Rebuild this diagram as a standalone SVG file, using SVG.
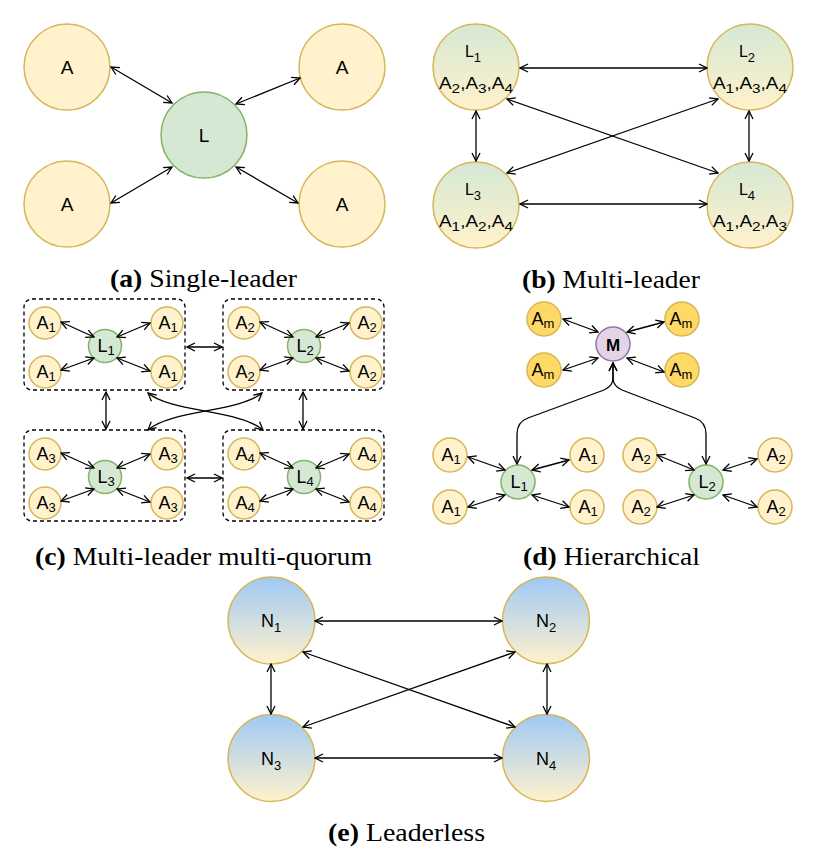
<svg xmlns="http://www.w3.org/2000/svg" width="817" height="862" viewBox="0 0 817 862">
<style>
.y{fill:#fff2cc;stroke:#d6b656;stroke-width:1.5}
.g{fill:#d5e8d4;stroke:#82b366;stroke-width:1.5}
.p{fill:#e1d5e7;stroke:#9673a6;stroke-width:1.5}
.am{fill:#ffd966;stroke:#d6b656;stroke-width:1.5}
.gb{fill:url(#gradB);stroke:#d6b656;stroke-width:1.5}
.ge{fill:url(#gradE);stroke:#d6b656;stroke-width:1.5}
.t{font-family:"Liberation Sans",Arial,sans-serif;fill:#000;text-anchor:middle}
.big{font-size:19px}
.mid{font-size:16px}
.sm{font-size:18px}
.sub{font-size:13px}
.cap{font-family:"Liberation Serif","Times New Roman",serif;font-size:25px;fill:#000}
.e{fill:none;stroke:#000;stroke-width:1.3;marker-start:url(#arr);marker-end:url(#arr)}
.box{fill:none;stroke:#000;stroke-width:1.3;stroke-dasharray:4 3}
</style>
<defs>
<linearGradient id="gradB" x1="0" y1="0" x2="0" y2="1">
<stop offset="0" stop-color="#d5e8d4"/>
<stop offset="1" stop-color="#fff2cc"/>
</linearGradient>
<linearGradient id="gradE" x1="0" y1="0" x2="0" y2="1">
<stop offset="0" stop-color="#9fc9f5"/>
<stop offset="1" stop-color="#fff2cc"/>
</linearGradient>
<marker id="arr" viewBox="0 0 10 10" markerWidth="10" markerHeight="10" refX="9" refY="5" orient="auto-start-reverse" markerUnits="userSpaceOnUse">
<path d="M1,1 L9,5 L1,9" fill="none" stroke="#000" stroke-width="1.3"/>
</marker>
</defs>

<!-- (a) Single-leader -->
<g id="a-A1"><circle class="y" cx="67" cy="67" r="43"/><text class="t big" x="67" y="74">A</text></g>
<g id="a-A2"><circle class="y" cx="342" cy="67" r="43"/><text class="t big" x="342" y="74">A</text></g>
<g id="a-A3"><circle class="y" cx="67" cy="204" r="43"/><text class="t big" x="67" y="211">A</text></g>
<g id="a-A4"><circle class="y" cx="342" cy="204" r="43"/><text class="t big" x="342" y="211">A</text></g>
<g id="a-L"><circle class="g" cx="204" cy="135" r="43"/><text class="t big" x="204" y="142">L</text></g>

<!-- (b) Multi-leader -->
<g id="b-L1"><circle class="gb" cx="476" cy="67" r="43"/>
<text class="t mid" x="473" y="57">L<tspan class="sub" dy="5">1</tspan></text>
<text class="t mid" x="476" y="89" textLength="74" lengthAdjust="spacingAndGlyphs">A<tspan class="sub" dy="4">2</tspan><tspan dy="-4">,A</tspan><tspan class="sub" dy="4">3</tspan><tspan dy="-4">,A</tspan><tspan class="sub" dy="4">4</tspan></text></g>
<g id="b-L2"><circle class="gb" cx="750" cy="67" r="43"/>
<text class="t mid" x="747" y="57">L<tspan class="sub" dy="5">2</tspan></text>
<text class="t mid" x="750" y="89" textLength="74" lengthAdjust="spacingAndGlyphs">A<tspan class="sub" dy="4">1</tspan><tspan dy="-4">,A</tspan><tspan class="sub" dy="4">3</tspan><tspan dy="-4">,A</tspan><tspan class="sub" dy="4">4</tspan></text></g>
<g id="b-L3"><circle class="gb" cx="476" cy="205" r="43"/>
<text class="t mid" x="473" y="195">L<tspan class="sub" dy="5">3</tspan></text>
<text class="t mid" x="476" y="227" textLength="74" lengthAdjust="spacingAndGlyphs">A<tspan class="sub" dy="4">1</tspan><tspan dy="-4">,A</tspan><tspan class="sub" dy="4">2</tspan><tspan dy="-4">,A</tspan><tspan class="sub" dy="4">4</tspan></text></g>
<g id="b-L4"><circle class="gb" cx="750" cy="205" r="43"/>
<text class="t mid" x="747" y="195">L<tspan class="sub" dy="5">4</tspan></text>
<text class="t mid" x="750" y="227" textLength="74" lengthAdjust="spacingAndGlyphs">A<tspan class="sub" dy="4">1</tspan><tspan dy="-4">,A</tspan><tspan class="sub" dy="4">2</tspan><tspan dy="-4">,A</tspan><tspan class="sub" dy="4">3</tspan></text></g>

<!-- (c) Multi-leader multi-quorum -->
<g id="c-Q1">
<rect class="box" x="24" y="299" width="161" height="91" rx="8"/>
<circle class="y" cx="45" cy="323" r="16"/><text class="t sm" x="46" y="329">A<tspan class="sub" dy="3">1</tspan></text>
<circle class="y" cx="167" cy="323" r="16"/><text class="t sm" x="168" y="329">A<tspan class="sub" dy="3">1</tspan></text>
<circle class="y" cx="45" cy="372" r="16"/><text class="t sm" x="46" y="378">A<tspan class="sub" dy="3">1</tspan></text>
<circle class="y" cx="167" cy="372" r="16"/><text class="t sm" x="168" y="378">A<tspan class="sub" dy="3">1</tspan></text>
<circle class="g" cx="105" cy="346" r="16.5"/><text class="t sm" x="106" y="352">L<tspan class="sub" dy="3">1</tspan></text>
</g>
<g id="c-Q2">
<rect class="box" x="223" y="299" width="161" height="91" rx="8"/>
<circle class="y" cx="244" cy="323" r="16"/><text class="t sm" x="245" y="329">A<tspan class="sub" dy="3">2</tspan></text>
<circle class="y" cx="366" cy="323" r="16"/><text class="t sm" x="367" y="329">A<tspan class="sub" dy="3">2</tspan></text>
<circle class="y" cx="244" cy="372" r="16"/><text class="t sm" x="245" y="378">A<tspan class="sub" dy="3">2</tspan></text>
<circle class="y" cx="366" cy="372" r="16"/><text class="t sm" x="367" y="378">A<tspan class="sub" dy="3">2</tspan></text>
<circle class="g" cx="304" cy="346" r="16.5"/><text class="t sm" x="305" y="352">L<tspan class="sub" dy="3">2</tspan></text>
</g>
<g id="c-Q3">
<rect class="box" x="24" y="430" width="161" height="91" rx="8"/>
<circle class="y" cx="45" cy="454" r="16"/><text class="t sm" x="46" y="460">A<tspan class="sub" dy="3">3</tspan></text>
<circle class="y" cx="167" cy="454" r="16"/><text class="t sm" x="168" y="460">A<tspan class="sub" dy="3">3</tspan></text>
<circle class="y" cx="45" cy="503" r="16"/><text class="t sm" x="46" y="509">A<tspan class="sub" dy="3">3</tspan></text>
<circle class="y" cx="167" cy="503" r="16"/><text class="t sm" x="168" y="509">A<tspan class="sub" dy="3">3</tspan></text>
<circle class="g" cx="105" cy="477" r="16.5"/><text class="t sm" x="106" y="483">L<tspan class="sub" dy="3">3</tspan></text>
</g>
<g id="c-Q4">
<rect class="box" x="223" y="430" width="161" height="91" rx="8"/>
<circle class="y" cx="244" cy="454" r="16"/><text class="t sm" x="245" y="460">A<tspan class="sub" dy="3">4</tspan></text>
<circle class="y" cx="366" cy="454" r="16"/><text class="t sm" x="367" y="460">A<tspan class="sub" dy="3">4</tspan></text>
<circle class="y" cx="244" cy="503" r="16"/><text class="t sm" x="245" y="509">A<tspan class="sub" dy="3">4</tspan></text>
<circle class="y" cx="366" cy="503" r="16"/><text class="t sm" x="367" y="509">A<tspan class="sub" dy="3">4</tspan></text>
<circle class="g" cx="304" cy="477" r="16.5"/><text class="t sm" x="305" y="483">L<tspan class="sub" dy="3">4</tspan></text>
</g>

<!-- (d) Hierarchical -->
<g id="d-M"><circle class="p" cx="613" cy="344" r="17"/><text class="t" x="613" y="351" style="font-size:17px;font-weight:bold">M</text></g>
<g id="d-Am1"><circle class="am" cx="544" cy="319" r="17"/><text class="t sm" x="543" y="325">A<tspan class="sub" dy="3">m</tspan></text></g>
<g id="d-Am2"><circle class="am" cx="682" cy="319" r="17"/><text class="t sm" x="681" y="325">A<tspan class="sub" dy="3">m</tspan></text></g>
<g id="d-Am3"><circle class="am" cx="544" cy="370" r="17"/><text class="t sm" x="543" y="376">A<tspan class="sub" dy="3">m</tspan></text></g>
<g id="d-Am4"><circle class="am" cx="682" cy="370" r="17"/><text class="t sm" x="681" y="376">A<tspan class="sub" dy="3">m</tspan></text></g>
<g id="d-L1"><circle class="g" cx="518" cy="482" r="17"/><text class="t sm" x="519" y="488">L<tspan class="sub" dy="3">1</tspan></text></g>
<g id="d-L2"><circle class="g" cx="706" cy="482" r="17"/><text class="t sm" x="707" y="488">L<tspan class="sub" dy="3">2</tspan></text></g>
<g id="d-A1a"><circle class="y" cx="450" cy="455" r="17"/><text class="t sm" x="451" y="461">A<tspan class="sub" dy="3">1</tspan></text></g>
<g id="d-A1b"><circle class="y" cx="587" cy="455" r="17"/><text class="t sm" x="588" y="461">A<tspan class="sub" dy="3">1</tspan></text></g>
<g id="d-A1c"><circle class="y" cx="450" cy="507" r="17"/><text class="t sm" x="451" y="513">A<tspan class="sub" dy="3">1</tspan></text></g>
<g id="d-A1d"><circle class="y" cx="587" cy="507" r="17"/><text class="t sm" x="588" y="513">A<tspan class="sub" dy="3">1</tspan></text></g>
<g id="d-A2a"><circle class="y" cx="640" cy="455" r="17"/><text class="t sm" x="641" y="461">A<tspan class="sub" dy="3">2</tspan></text></g>
<g id="d-A2b"><circle class="y" cx="775" cy="455" r="17"/><text class="t sm" x="776" y="461">A<tspan class="sub" dy="3">2</tspan></text></g>
<g id="d-A2c"><circle class="y" cx="640" cy="507" r="17"/><text class="t sm" x="641" y="513">A<tspan class="sub" dy="3">2</tspan></text></g>
<g id="d-A2d"><circle class="y" cx="775" cy="507" r="17"/><text class="t sm" x="776" y="513">A<tspan class="sub" dy="3">2</tspan></text></g>

<!-- (e) Leaderless -->
<g id="e-N1"><circle class="ge" cx="271.5" cy="620.5" r="43.5"/><text class="t sm" x="271" y="627">N<tspan class="sub" dy="5">1</tspan></text></g>
<g id="e-N2"><circle class="ge" cx="546" cy="620.5" r="43.5"/><text class="t sm" x="546" y="627">N<tspan class="sub" dy="5">2</tspan></text></g>
<g id="e-N3"><circle class="ge" cx="271.5" cy="758" r="43.5"/><text class="t sm" x="271" y="765">N<tspan class="sub" dy="5">3</tspan></text></g>
<g id="e-N4"><circle class="ge" cx="546" cy="758" r="43.5"/><text class="t sm" x="546" y="765">N<tspan class="sub" dy="5">4</tspan></text></g>

<!-- connectors -->
<g id="connectors">
<path class="e" d="M111,67 L172,103"/>
<path class="e" d="M300,78 L236,104"/>
<path class="e" d="M111,203 L172,167"/>
<path class="e" d="M236,167 L298,203"/>

<path class="e" d="M520,68 L707,68"/>
<path class="e" d="M520,204 L707,204"/>
<path class="e" d="M476,111 L476,161"/>
<path class="e" d="M749,111 L749,161"/>
<path class="e" d="M507,99 L718,173"/>
<path class="e" d="M718,99 L507,173"/>

<path class="e" d="M61,322 L94,337"/>
<path class="e" d="M150,323 L117,337"/>
<path class="e" d="M61,370 L94,358"/>
<path class="e" d="M117,358 L150,371"/>
<path class="e" d="M260,322 L293,337"/>
<path class="e" d="M349,323 L316,337"/>
<path class="e" d="M260,370 L293,358"/>
<path class="e" d="M316,358 L349,371"/>
<path class="e" d="M61,453 L94,468"/>
<path class="e" d="M150,454 L117,468"/>
<path class="e" d="M61,501 L94,489"/>
<path class="e" d="M117,489 L150,502"/>
<path class="e" d="M260,453 L293,468"/>
<path class="e" d="M349,454 L316,468"/>
<path class="e" d="M260,501 L293,489"/>
<path class="e" d="M316,489 L349,502"/>
<path class="e" d="M187,347 L222,347"/>
<path class="e" d="M187,478 L222,478"/>
<path class="e" d="M106,392 L106,429"/>
<path class="e" d="M303,392 L303,429"/>
<path class="e" d="M148,393 C170,412 240,410 263,430"/>
<path class="e" d="M262,393 C240,412 170,410 148,430"/>

<path class="e" d="M563,319 L598,332"/>
<path class="e" d="M664,322 L627,332"/>
<path class="e" d="M563,370 L598,358"/>
<path class="e" d="M627,358 L664,372"/>
<path class="e" d="M613,363 L613,378 Q613,386 604,390 L528,418 Q517,422 517,434 L517,464"/>
<path class="e" d="M613,363 L613,378 Q613,386 622,390 L695,418 Q706,422 706,434 L706,464"/>
<path class="e" d="M468,457 L505,470"/>
<path class="e" d="M569,460 L532,470"/>
<path class="e" d="M468,507 L505,495"/>
<path class="e" d="M532,495 L569,507"/>
<path class="e" d="M657,455 L694,470"/>
<path class="e" d="M757,459 L723,470"/>
<path class="e" d="M657,507 L694,495"/>
<path class="e" d="M723,495 L757,507"/>

<path class="e" d="M315,621 L502,621"/>
<path class="e" d="M315,758 L502,758"/>
<path class="e" d="M271,664 L271,714"/>
<path class="e" d="M547,664 L547,714"/>
<path class="e" d="M303,652 L515,727"/>
<path class="e" d="M515,652 L303,727"/>
</g>

<!-- captions -->
<text class="cap" x="110" y="287" textLength="187" lengthAdjust="spacingAndGlyphs"><tspan font-weight="bold">(a)</tspan> Single-leader</text>
<text class="cap" x="522" y="288" textLength="178" lengthAdjust="spacingAndGlyphs"><tspan font-weight="bold">(b)</tspan> Multi-leader</text>
<text class="cap" x="35" y="565" textLength="337" lengthAdjust="spacingAndGlyphs"><tspan font-weight="bold">(c)</tspan> Multi-leader multi-quorum</text>
<text class="cap" x="523" y="565" textLength="177" lengthAdjust="spacingAndGlyphs"><tspan font-weight="bold">(d)</tspan> Hierarchical</text>
<text class="cap" x="328" y="841" textLength="157" lengthAdjust="spacingAndGlyphs"><tspan font-weight="bold">(e)</tspan> Leaderless</text>
</svg>
